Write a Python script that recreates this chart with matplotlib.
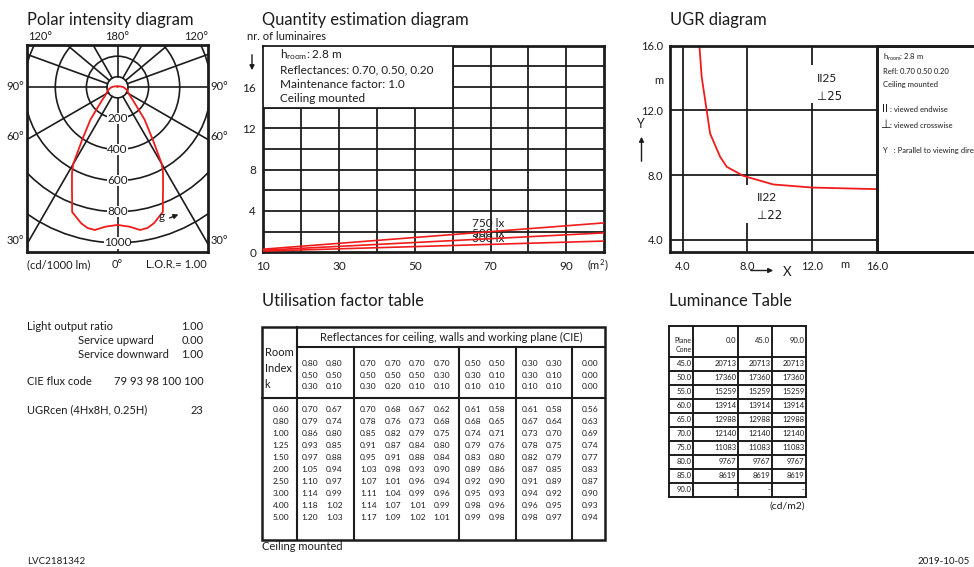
import numpy as np
import matplotlib
matplotlib.use('Agg')
from matplotlib import pyplot as plt
from matplotlib.patches import Circle, Rectangle

plt.rcParams['font.family'] = ['Lato', 'DejaVu Sans']
plt.rcParams['mathtext.fontset'] = 'custom'
plt.rcParams['mathtext.rm'] = 'Lato'
plt.rcParams['mathtext.it'] = 'Lato:italic'

W, H = 974, 567
INK = '#1c1c1c'
RED = '#f01c1c'

# polar intensity diagram, cd/1000 lm against gamma (deg from nadir)
gamma = [0, 5, 9, 12, 15, 20, 22, 24, 26, 28, 30, 34, 40, 45, 50, 55, 60, 75, 90, 105, 120, 150, 180]
intensity = [885, 900, 929, 925, 905, 853, 779, 720, 668, 623, 570, 405, 270, 175, 130, 100, 85, 62, 40, 22, 12, 6, 5]
rings = [200, 400, 600, 800, 1000]
spokes = [30, 60, 90, 110, 130, 150]

# quantity estimation diagram
area_ends = [10, 100]
lux_levels = ['750 lx', '500 lx', '300 lx']
lum_count = [[0.30, 2.85], [0.20, 1.88], [0.12, 1.09]]
lux_label_y = [2.75, 1.85, 1.3]
area_ticks = [10, 30, 50, 70, 90]
count_ticks = [0, 4, 8, 12, 16]

# UGR diagram
ugr_x = [5.03, 5.17, 5.48, 5.69, 6.31, 6.72, 7.75, 9.6, 12.0, 16.0]
ugr_y = [16.0, 14.08, 12.0, 10.58, 9.14, 8.52, 7.96, 7.43, 7.24, 7.14]
ugr_ticks = [4.0, 8.0, 12.0, 16.0]

# utilisation factor table
refl_ceiling = [0.80, 0.80, 0.70, 0.70, 0.70, 0.70, 0.50, 0.50, 0.30, 0.30, 0.00]
refl_walls = [0.50, 0.50, 0.50, 0.50, 0.50, 0.30, 0.30, 0.10, 0.30, 0.10, 0.00]
refl_plane = [0.30, 0.10, 0.30, 0.20, 0.10, 0.10, 0.10, 0.10, 0.10, 0.10, 0.00]
room_index = [0.60, 0.80, 1.00, 1.25, 1.50, 2.00, 2.50, 3.00, 4.00, 5.00]
uf = [
    [0.70, 0.67, 0.70, 0.68, 0.67, 0.62, 0.61, 0.58, 0.61, 0.58, 0.56],
    [0.79, 0.74, 0.78, 0.76, 0.73, 0.68, 0.68, 0.65, 0.67, 0.64, 0.63],
    [0.86, 0.80, 0.85, 0.82, 0.79, 0.75, 0.74, 0.71, 0.73, 0.70, 0.69],
    [0.93, 0.85, 0.91, 0.87, 0.84, 0.80, 0.79, 0.76, 0.78, 0.75, 0.74],
    [0.97, 0.88, 0.95, 0.91, 0.88, 0.84, 0.83, 0.80, 0.82, 0.79, 0.77],
    [1.05, 0.94, 1.03, 0.98, 0.93, 0.90, 0.89, 0.86, 0.87, 0.85, 0.83],
    [1.10, 0.97, 1.07, 1.01, 0.96, 0.94, 0.92, 0.90, 0.91, 0.89, 0.87],
    [1.14, 0.99, 1.11, 1.04, 0.99, 0.96, 0.95, 0.93, 0.94, 0.92, 0.90],
    [1.18, 1.02, 1.14, 1.07, 1.01, 0.99, 0.98, 0.96, 0.96, 0.95, 0.93],
    [1.20, 1.03, 1.17, 1.09, 1.02, 1.01, 0.99, 0.98, 0.98, 0.97, 0.94],
]

# luminance table (cd/m2)
lum_planes = ['0.0', '45.0', '90.0']
lum_cones = ['45.0', '50.0', '55.0', '60.0', '65.0', '70.0', '75.0', '80.0', '85.0', '90.0']
lum_values = [20713, 17360, 15259, 13914, 12988, 12140, 11083, 9767, 8619, None]

fig = plt.figure(figsize=(W / 100, H / 100), dpi=100)


def px_axes(x0, y0, x1, y1):
    a = fig.add_axes([x0 / W, 1 - y1 / H, (x1 - x0) / W, (y1 - y0) / H])
    a.patch.set_alpha(0)
    for s in a.spines.values():
        s.set_linewidth(2)
        s.set_color(INK)
    return a


# ---------------- polar intensity diagram ----------------
ax = px_axes(27, 45, 208, 252)
k = 1000 / 155.5
cx, cy = 117.5, 87.3
for r in rings:
    ax.add_patch(Circle((0, 0), r, fill=False, ec=INK, lw=1.2))
ax.add_patch(Circle((0, 0), 68, fill=False, ec=INK, lw=1.2))
ax.plot([0, 0], [68, 3000], color=INK, lw=1.2)
ax.plot([0, 0], [-68, -3000], color=INK, lw=1.2)
for a in spokes:
    t = np.radians(a)
    for sg in (-1, 1):
        ax.plot([sg * 68 * np.sin(t), sg * 3000 * np.sin(t)],
                [-68 * np.cos(t), -3000 * np.cos(t)], color=INK, lw=1.2)
for r in rings:
    ax.text(0, -r, str(r), ha='center', va='center', fontsize=8.5, color=INK,
            bbox=dict(fc='white', ec='none', pad=0.2))
g = np.radians(gamma)
I = np.array(intensity, dtype=float)
xs = np.concatenate([-(I * np.sin(g))[::-1], (I * np.sin(g))[1:]])
ys = np.concatenate([(-I * np.cos(g))[::-1], (-I * np.cos(g))[1:]])
ax.plot(xs, ys, color=RED, lw=1.3)
ax.set_xlim((27 - cx) * k, (208 - cx) * k)
ax.set_ylim((cy - 252) * k, (cy - 45) * k)
ax.set_xticks([])
ax.set_yticks([])

# ---------------- quantity estimation diagram ----------------
aq = px_axes(263, 45.7, 604.3, 252.3)
aq.vlines(np.arange(20, 100, 10), 0, 20, color=INK, lw=1.3)
aq.hlines(np.arange(2, 20, 2), 10, 100, color=INK, lw=1.3)
aq.add_patch(Rectangle((10, 14), 50, 6, fc='white', ec=INK, lw=1.3, zorder=3))
for lbl, n, ly in zip(lux_levels, lum_count, lux_label_y):
    aq.plot(area_ends, n, color=RED, lw=1.2, zorder=4)
    aq.text(65, ly, lbl, fontsize=8.5, color=INK, va='center', ha='left', zorder=3)
aq.set_xlim(10, 100)
aq.set_ylim(0, 20)
aq.set_xticks(area_ticks)
aq.set_yticks(count_ticks)
aq.tick_params(length=0, labelsize=8.5, colors=INK)
aq.tick_params(axis='y', pad=5)
aq.tick_params(axis='x', pad=6)

# ---------------- UGR diagram ----------------
au = px_axes(670, 45.7, 876.7, 252.3)
au.hlines([4, 8, 12], 3, 16, color=INK, lw=1.3)
au.vlines([4], 3, 16, color=INK, lw=1.3)
au.vlines([8, 8], [3, 7.40], [5.03, 16], color=INK, lw=1.3)
au.vlines([12, 12], [3, 14.81], [12.44, 16], color=INK, lw=1.3)
au.plot(ugr_x, ugr_y, color=RED, lw=1.3)
au.text(12.3, 13.98, 'II25', fontsize=8.5, color=INK, va='center')
au.text(12.3, 12.85, '⊥25', fontsize=8.5, color=INK, va='center', family=['DejaVu Sans'])
au.text(8.6, 6.62, 'II22', fontsize=8.5, color=INK, va='center')
au.text(8.6, 5.49, '⊥22', fontsize=8.5, color=INK, va='center', family=['DejaVu Sans'])
au.set_xlim(3.21, 16)
au.set_ylim(3.24, 16)
au.set_xticks(ugr_ticks)
au.set_yticks(ugr_ticks)
au.set_xticklabels(['%.1f' % v for v in ugr_ticks])
au.set_yticklabels(['%.1f' % v for v in ugr_ticks])
au.tick_params(length=0, labelsize=8, colors=INK)
au.tick_params(axis='y', pad=5)
au.tick_params(axis='x', pad=6)
al = px_axes(876.7, 45.7, 1010, 252.3)
al.set_xticks([])
al.set_yticks([])

# ---------------- overlay for free text and tables ----------------
bg = fig.add_axes([0, 0, 1, 1], zorder=10)
bg.patch.set_alpha(0)
bg.set_xlim(0, W)
bg.set_ylim(H, 0)
bg.axis('off')


def txt(x, y, s, size=8, ha='left', va='center', **kw):
    bg.text(x, y, s, fontsize=size, ha=ha, va=va, color=INK, **kw)


# titles
for x, y, s in [(27, 20, 'Polar intensity diagram'), (262, 20, 'Quantity estimation diagram'),
                (670, 20, 'UGR diagram'), (262, 301, 'Utilisation factor table'),
                (669, 301, 'Luminance Table')]:
    txt(x, y, s, size=11.9)

# polar labels
for x, s in [(40, '120°'), (117.5, '180°'), (196, '120°')]:
    txt(x, 37, s, size=8, ha='center')
for y, s in [(87, '90°'), (136, '60°'), (240, '30°')]:
    txt(15, y, s, size=8, ha='center')
    txt(219, y, s, size=8, ha='center')
txt(27, 265, '(cd/1000 lm)', size=8)
txt(117.5, 265, '0°', size=8, ha='center')
txt(207, 265, 'L.O.R.= 1.00', size=8, ha='right')
txt(161.5, 216.5, 'g', size=8.5, ha='center')
bg.annotate('', xy=(181, 213.5), xytext=(167, 219),
            arrowprops=dict(arrowstyle='-|>', color=INK, lw=1, mutation_scale=7))

# quantity labels
txt(247, 37, 'nr. of luminaires', size=8)
bg.annotate('', xy=(252, 73), xytext=(252, 52),
            arrowprops=dict(arrowstyle='-|>', color=INK, lw=1, mutation_scale=7))
txt(280, 55, 'h$_\\mathrm{room}$: 2.8 m', size=8.5)
txt(280, 69.5, 'Reflectances: 0.70, 0.50, 0.20', size=8.5)
txt(280, 84, 'Maintenance factor: 1.0', size=8.5)
txt(280, 98, 'Ceiling mounted', size=8.5)
txt(598, 265, '(m$^2$)', size=8, ha='center')

# UGR labels
txt(659, 80, 'm', size=8, ha='center')
txt(640, 124, 'Y', size=9, ha='center')
bg.annotate('', xy=(641.5, 134), xytext=(641.5, 164),
            arrowprops=dict(arrowstyle='-|>', color=INK, lw=1, mutation_scale=7))
txt(845, 265, 'm', size=8, ha='center')
txt(787, 272, 'X', size=9.5, ha='center')
bg.annotate('', xy=(776, 270.5), xytext=(748, 270.5),
            arrowprops=dict(arrowstyle='-|>', color=INK, lw=1, mutation_scale=7))
txt(883, 57, 'h$_\\mathrm{room}$: 2.8 m', size=5.5)
txt(883, 71, 'Refl: 0.70 0.50 0.20', size=5.5)
txt(883, 85, 'Ceiling mounted', size=5.5)
txt(882, 109, 'II', size=8)
txt(890, 110, ': viewed endwise', size=5.5)
txt(881, 124, '⊥', size=8.5, family=['DejaVu Sans'])
txt(890, 125, ': viewed crosswise', size=5.5)
# this line runs past the page edge in the original sheet as well
txt(883, 150, 'Y   : Parallel to viewing direction', size=5.5)
bg.plot([876.7, 974], [45.7, 45.7], color=INK, lw=2)
bg.plot([876.7, 974], [252.3, 252.3], color=INK, lw=2)

# left info block
info = [(326, 27, 'Light output ratio', '1.00'), (340, 77.5, 'Service upward', '0.00'),
        (354, 77.5, 'Service downward', '1.00'), (381.5, 27, 'CIE flux code', '79 93 98 100 100'),
        (410, 27, 'UGRcen (4Hx8H, 0.25H)', '23')]
for y, x, lab, val in info:
    txt(x, y, lab, size=8)
    txt(203.5, y, val, size=8, ha='right')

# utilisation factor table
tl, tr, tt, tb = 262.3, 605, 326.7, 540
bg.add_patch(Rectangle((tl, tt), tr - tl, tb - tt, fill=False, ec=INK, lw=1.8))
groups = [296.7, 354, 459, 516, 572.3]
bg.plot([groups[0], groups[0]], [tt, tb], color=INK, lw=1.5)
for gx in groups[1:]:
    bg.plot([gx, gx], [347.3, tb], color=INK, lw=1.5)
bg.plot([groups[0], tr], [347.3, 347.3], color=INK, lw=1.5)
bg.plot([tl, tr], [397.7, 397.7], color=INK, lw=1.5)
txt(451, 337, 'Reflectances for ceiling, walls and working plane (CIE)', size=8, ha='center')
txt(264.5, 352.5, 'Room', size=8)
txt(264.5, 368, 'Index', size=8)
txt(264.5, 385, 'k', size=8)
col_x = [310, 334.3, 368.3, 392.7, 417.3, 441.7, 473.3, 496.7, 530, 554.3, 590]
for ry, row in zip([363.5, 375, 386.5], [refl_ceiling, refl_walls, refl_plane]):
    for cxx, v in zip(col_x, row):
        txt(cxx, ry, '%.2f' % v, size=6, ha='center')
for i, (ki, row) in enumerate(zip(room_index, uf)):
    ry = 410 + 11.95 * i
    txt(281, ry, '%.2f' % ki, size=6, ha='center')
    for cxx, v in zip(col_x, row):
        txt(cxx, ry, '%.2f' % v, size=6, ha='center')
txt(262, 546, 'Ceiling mounted', size=8)

# luminance table
lx = [669, 693.3, 737.7, 771.7, 805.7]
ly = [326, 357] + [357 + 13.97 * (i + 1) for i in range(len(lum_cones))]
for xv in lx:
    bg.plot([xv, xv], [ly[0], ly[-1]], color=INK, lw=1.4)
for yv in ly:
    bg.plot([lx[0], lx[-1]], [yv, yv], color=INK, lw=1.4)
txt(691.5, 340.5, 'Plane', size=5, ha='right')
txt(691.5, 349, 'Cone', size=5, ha='right')
for j, p in enumerate(lum_planes):
    txt(lx[j + 2] - 1.5, 340.5, p, size=5.5, ha='right')
for i, (c, v) in enumerate(zip(lum_cones, lum_values)):
    ry = (ly[i + 1] + ly[i + 2]) / 2
    txt(691.5, ry, c, size=5.5, ha='right')
    for j in range(len(lum_planes)):
        txt(lx[j + 2] - 1.5, ry, '-' if v is None else str(v), size=5.5, ha='right')
txt(805, 506, '(cd/m2)', size=7.5, ha='right')

# footer
txt(27, 562, 'LVC2181342', size=7)
txt(970, 562, '2019-10-05', size=7, ha='right')

fig.savefig('out.png', dpi=100)
